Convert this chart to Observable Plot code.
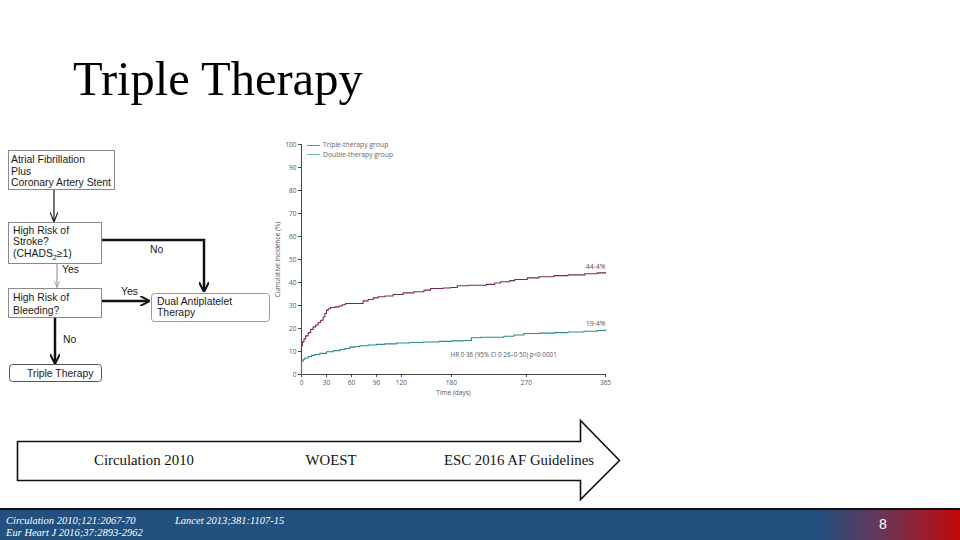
<!DOCTYPE html>
<html>
<head>
<meta charset="utf-8">
<script src="https://cdn.jsdelivr.net/npm/d3@7"></script>
<script src="https://cdn.jsdelivr.net/npm/@observablehq/plot@0.6"></script>
<style>
  html, body { margin: 0; padding: 0; background: #fff; }
  #slide { position: relative; width: 960px; height: 540px; overflow: hidden; background: #fff; }
  #title { position: absolute; left: 73px; top: 55px; font-family: "Liberation Serif", serif; font-size: 48.5px; color: #000; line-height: 1; }
  #chart { position: absolute; left: 265px; top: 135px; }
  #legend { position: absolute; left: 307px; top: 140px; font-family: "Open Sans", sans-serif; font-size: 6.8px; color: #666; line-height: 9.6px; }
  #legend .sw { display: inline-block; width: 13px; height: 0; border-top: 1px solid; vertical-align: middle; margin-right: 3px; }
  #footer { position: absolute; left: 0; top: 508px; width: 960px; height: 30px; border-top: 2px solid #111; border-bottom: 1px solid #111;
    background: linear-gradient(to right, #22507f 0%, #22507f 85%, #6a3558 92%, #c20808 100%); }
  .ft { position: absolute; font-family: "Liberation Serif", serif; font-style: italic; font-size: 10.5px; color: #fff; white-space: nowrap; }
  #pg { position: absolute; left: 879px; top: 6px; font-family: "Liberation Sans", sans-serif; font-size: 14px; color: #fff; }
</style>
</head>
<body>
<div id="slide">
  <div id="title">Triple Therapy</div>

  <svg id="deco" width="960" height="540" style="position:absolute;left:0;top:0" font-family="Liberation Sans, Arial, sans-serif">
    <defs>
      <marker id="ah" viewBox="0 0 10 10" refX="9" refY="5" markerWidth="4" markerHeight="4" orient="auto">
        <path d="M0,0 L10,5 L0,10" fill="none" stroke="#111" stroke-width="2"/>
      </marker>
      <marker id="ahThin" viewBox="0 0 10 10" refX="9" refY="5" markerWidth="7" markerHeight="7" orient="auto">
        <path d="M0,1 L10,5 L0,9" fill="none" stroke="#888" stroke-width="1"/>
      </marker>
      <marker id="ah1" viewBox="0 0 10 10" refX="9" refY="5" markerWidth="8" markerHeight="8" orient="auto">
        <path d="M0,1 L10,5 L0,9" fill="none" stroke="#111" stroke-width="1.2"/>
      </marker>
    </defs>
    <!-- flowchart -->
    <g font-size="10.4" fill="#1a1a1a">
      <rect x="8.5" y="150.5" width="106" height="39" fill="#fff" stroke="#8a8a8a"/>
      <text x="11" y="163">Atrial Fibrillation</text>
      <text x="11" y="174.5">Plus</text>
      <text x="11" y="186">Coronary Artery Stent</text>

      <line x1="54" y1="190" x2="54" y2="221" stroke="#111" stroke-width="1.2" marker-end="url(#ah1)"/>

      <rect x="8.5" y="222.5" width="93" height="41" fill="#fff" stroke="#8a8a8a"/>
      <text x="13" y="233.5">High Risk of</text>
      <text x="13" y="244.5">Stroke?</text>
      <text x="13" y="257">(CHADS<tspan font-size="7" dy="3">2</tspan><tspan dy="-3">≥1)</tspan></text>

      <polyline points="102,240 204,240 204,291" fill="none" stroke="#111" stroke-width="2.5" marker-end="url(#ah)"/>
      <text x="150" y="252.5">No</text>

      <line x1="57" y1="264" x2="57" y2="287" stroke="#888" stroke-width="1" marker-end="url(#ahThin)"/>
      <text x="62" y="273">Yes</text>

      <rect x="8.5" y="288.5" width="93" height="29" fill="#fff" stroke="#8a8a8a"/>
      <text x="13" y="300.5">High Risk of</text>
      <text x="13" y="313.5">Bleeding?</text>

      <line x1="102" y1="301" x2="149" y2="301" stroke="#111" stroke-width="2.5" marker-end="url(#ah)"/>
      <text x="121" y="295">Yes</text>

      <rect x="151.5" y="293.5" width="118" height="28" rx="3" fill="#fff" stroke="#9a9a9a"/>
      <text x="157" y="305">Dual Antiplatelet</text>
      <text x="157" y="316">Therapy</text>

      <line x1="55" y1="318" x2="55" y2="363" stroke="#111" stroke-width="2.5" marker-end="url(#ah)"/>
      <text x="63" y="342.5">No</text>

      <rect x="9.5" y="364.5" width="92" height="17" rx="3" fill="#fff" stroke="#555"/>
      <text x="27" y="376.5">Triple Therapy</text>
    </g>

    <!-- timeline arrow -->
    <path d="M17.5,441.5 L580.5,441.5 L580.5,420.5 L619.5,460.5 L580.5,499.5 L580.5,480.5 L17.5,480.5 Z" fill="#fff" stroke="#111" stroke-width="1.6"/>
    <g font-family="Liberation Serif, serif" font-size="14.8" fill="#111" text-anchor="middle">
      <text x="144" y="465">Circulation 2010</text>
      <text x="331" y="465">WOEST</text>
      <text x="519" y="465">ESC 2016 AF Guidelines</text>
    </g>
  </svg>

  <div id="chart"></div>
  <div id="legend">
    <div><span class="sw" style="border-color:#b0708f"></span>Triple-therapy group</div>
    <div><span class="sw" style="border-color:#6fb1b1"></span>Double-therapy group</div>
  </div>

  <div id="footer">
    <div class="ft" style="left:6px;top:5px">Circulation 2010;121:2067-70</div>
    <div class="ft" style="left:6px;top:17px">Eur Heart J 2016;37:2893-2962</div>
    <div class="ft" style="left:175px;top:5px">Lancet 2013;381:1107-15</div>
    <div id="pg">8</div>
  </div>
</div>

<script>
// ---- data ----
const groups = ["Triple-therapy group", "Double-therapy group"];
const groupColors = ["#76285a", "#2a8a8c"];

const tripleDays = [0, 0, 1, 3, 5, 8, 11, 14, 17, 20, 23, 26, 28, 30, 32, 35, 40, 45, 49, 53, 60, 70, 74, 80, 86, 92, 100, 110, 122, 135, 147, 155, 170, 179, 187, 200, 222, 232, 239, 250, 256, 271, 285, 303, 320, 340, 355, 365];
const tripleInc  = [0, 12.5, 14.2, 15.5, 16.8, 18.2, 19.6, 20.7, 21.5, 22.6, 23.6, 25.0, 26.5, 27.9, 28.6, 29.1, 29.4, 29.8, 30.3, 30.9, 30.9, 30.9, 32.0, 32.6, 33.3, 33.8, 34.1, 34.8, 35.5, 36.0, 36.7, 37.4, 37.6, 37.8, 38.6, 38.8, 39.2, 39.8, 40.3, 40.8, 41.3, 42.0, 42.5, 43.0, 43.3, 43.8, 44.2, 44.4];

const doubleDays = [0, 0, 2, 4, 8, 12, 16, 22, 30, 38, 46, 52, 58, 64, 70, 80, 90, 100, 114, 130, 146, 165, 180, 194, 204, 215, 243, 255, 267, 285, 303, 320, 339, 355, 365];
const doubleInc  = [0, 5.8, 6.6, 7.2, 7.8, 8.3, 8.7, 9.2, 9.9, 10.4, 10.9, 11.3, 11.9, 12.2, 12.5, 12.8, 13.1, 13.3, 13.7, 13.9, 14.1, 14.4, 14.6, 14.8, 16.0, 16.2, 16.6, 17.2, 17.8, 18.0, 18.2, 18.5, 18.8, 19.1, 19.4];

const endLabels = ["44·4%", "19·4%"];
const xTicks = [0, 30, 60, 90, 120, 180, 270, 365];
const yTicks = [0, 10, 20, 30, 40, 50, 60, 70, 80, 90, 100];
const hrText = "HR 0·36 (95% CI 0·26–0·50) p<0·0001";
const hrAnchor = [{day: 179, inc: 8.7}];

// ---- build table ----
const rows = [
  ...tripleDays.map((d, i) => ({day: d, inc: tripleInc[i], group: groups[0]})),
  ...doubleDays.map((d, i) => ({day: d, inc: doubleInc[i], group: groups[1]}))
];
const ends = [
  {day: tripleDays[tripleDays.length - 1], inc: tripleInc[tripleInc.length - 1], label: endLabels[0]},
  {day: doubleDays[doubleDays.length - 1], inc: doubleInc[doubleInc.length - 1], label: endLabels[1]}
];

const chart = Plot.plot({
  width: 360,
  height: 265,
  marginLeft: 36,
  marginRight: 20,
  marginTop: 9,
  marginBottom: 26,
  style: {fontFamily: "Open Sans, sans-serif", fontSize: "6.5px", color: "#555", background: "transparent", overflow: "visible"},
  x: {domain: [0, 365]},
  y: {domain: [0, 100]},
  color: {domain: groups, range: groupColors},
  marks: [
    Plot.axisX({ticks: xTicks, tickSize: 3, tickPadding: 3, tickFormat: d => String(d), stroke: "#444",
      label: "Time (days)", labelAnchor: "center", labelArrow: "none", labelOffset: 20}),
    Plot.axisY({ticks: yTicks, tickSize: 3, tickPadding: 2, tickFormat: d => String(d), stroke: "#444",
      label: "Cumulative incidence (%)", labelAnchor: "center", labelArrow: "none", labelOffset: 26}),
    Plot.ruleX([0], {stroke: "#333", strokeWidth: 0.9}),
    Plot.ruleY([0], {stroke: "#333", strokeWidth: 0.9}),
    Plot.line(rows, {x: "day", y: "inc", z: "group", stroke: "group", curve: "step-after", strokeWidth: 1.1}),
    Plot.text(ends, {x: "day", y: "inc", text: "label", textAnchor: "end", dy: -6, fontSize: 7, fill: "#555"}),
    Plot.text(hrAnchor, {x: "day", y: "inc", text: () => hrText, textAnchor: "start", fontSize: 6.3, fill: "#555"})
  ]
});
document.getElementById("chart").appendChild(chart);
</script>
</body>
</html>
